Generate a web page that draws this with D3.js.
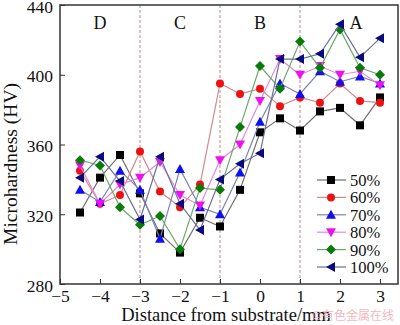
<!DOCTYPE html>
<html>
<head>
  <meta charset="utf-8">
  <title>Microhardness</title>
  <script src="https://cdnjs.cloudflare.com/ajax/libs/d3/7.8.5/d3.min.js"></script>
  <style>
    body { margin: 0; background: #fff; }
    text { font-family: "Liberation Serif", "Times New Roman", serif; fill: #111; }
  </style>
</head>
<body>
  <div id="chart"></div>
  <script>
    // distance from substrate (mm)
    var distances = [-4.5, -4, -3.5, -3, -2.5, -2, -1.5, -1, -0.5, 0, 0.5, 1, 1.5, 2, 2.5, 3];
    var seriesNames = ["50%", "60%", "70%", "80%", "90%", "100%"];
    var hv50  = [321, 341, 354, 332, 309, 298, 318, 313, 334, 367, 375, 368, 379, 381, 371, 387];
    var hv60  = [345, 326, 331, 356, 333, 324, 337, 395, 389, 392, 382, 387, 384, 395, 385, 384];
    var hv70  = [334, 327, 345, 334, 306, 346, 324, 320, 344, 373, 395, 389, 402, 396, 399, 395];
    var hv80  = [348, 326, 337, 341, 350, 331, 325, 351, 360, 385, 409, 400, 405, 400, 402, 394];
    var hv90  = [351, 348, 324, 314, 319, 300, 335, 334, 370, 405, 392, 419, 404, 426, 404, 400];
    var hv100 = [341, 353, 339, 317, 353, 326, 311, 340, 349, 355, 409, 409, 412, 429, 410, 421];
    var xTicks = [-5, -4, -3, -2, -1, 0, 1, 2, 3];
    var yTicks = [280, 320, 360, 400, 440];
    var zoneBounds = [-3, -1, 1];
    var zoneNames = ["D", "C", "B", "A"];
    var zoneLabelX = [-4, -2, 0, 2.4];

    var allSeries = [hv50, hv60, hv70, hv80, hv90, hv100];
    var markerColor = ["#000000", "#ee1111", "#1010ee", "#ee10ee", "#0a7a0a", "#0a0a80"];
    var lineColor = ["#6e6e6e", "#d48a8a", "#7a84b8", "#e08ae0", "#6aaa6a", "#6a7096"];
    var shapes = ["square", "circle", "up", "down", "diamond", "left"];

    var width = 400, height = 325;
    var plotL = 60, plotR = 398, plotT = 5, plotB = 284;

    var x = d3.scaleLinear().domain([-5, 3.45]).range([plotL, plotR]);
    var y = d3.scaleLinear().domain([280, 440]).range([plotB, plotT]);

    var svg = d3.select("#chart").append("svg")
      .attr("width", width)
      .attr("height", height);

    // zone separators
    svg.selectAll("line.zone")
      .data(zoneBounds)
      .enter().append("line")
      .attr("x1", d => x(d)).attr("x2", d => x(d))
      .attr("y1", plotT).attr("y2", plotB)
      .attr("stroke", "#c98a8a")
      .attr("stroke-width", 1)
      .attr("stroke-dasharray", "3,2");

    svg.selectAll("text.zone")
      .data(zoneNames)
      .enter().append("text")
      .attr("x", (d, i) => x(zoneLabelX[i]))
      .attr("y", 29)
      .attr("text-anchor", "middle")
      .attr("font-size", 18)
      .text(d => d);

    // marker path builder
    function markerPath(shape, cx, cy) {
      var s = 4;
      if (shape === "square") return "M" + (cx - s) + "," + (cy - s) + "h" + 2 * s + "v" + 2 * s + "h" + (-2 * s) + "Z";
      if (shape === "up") return "M" + cx + "," + (cy - 5) + "L" + (cx + 5) + "," + (cy + 4) + "L" + (cx - 5) + "," + (cy + 4) + "Z";
      if (shape === "down") return "M" + cx + "," + (cy + 5) + "L" + (cx + 5) + "," + (cy - 4) + "L" + (cx - 5) + "," + (cy - 4) + "Z";
      if (shape === "left") return "M" + (cx - 5) + "," + cy + "L" + (cx + 4) + "," + (cy - 5) + "L" + (cx + 4) + "," + (cy + 5) + "Z";
      if (shape === "diamond") return "M" + cx + "," + (cy - 5) + "L" + (cx + 5) + "," + cy + "L" + cx + "," + (cy + 5) + "L" + (cx - 5) + "," + cy + "Z";
      return "M" + (cx - 4) + "," + cy + "a4,4 0 1,0 8,0a4,4 0 1,0 -8,0Z";
    }

    var line = d3.line()
      .x((d, i) => x(distances[i]))
      .y(d => y(d));

    allSeries.forEach(function (vals, k) {
      var g = svg.append("g");
      g.append("path")
        .attr("d", line(vals))
        .attr("fill", "none")
        .attr("stroke", lineColor[k])
        .attr("stroke-width", 1.2);
      g.selectAll("path.m")
        .data(vals)
        .enter().append("path")
        .attr("d", (d, i) => markerPath(shapes[k], x(distances[i]), y(d)))
        .attr("fill", markerColor[k]);
    });

    // frame
    svg.append("rect")
      .attr("x", plotL).attr("y", plotT)
      .attr("width", plotR - plotL).attr("height", plotB - plotT)
      .attr("fill", "none")
      .attr("stroke", "#333")
      .attr("stroke-width", 1.5);

    // axes (ticks point inward)
    var xAxis = svg.append("g")
      .attr("transform", "translate(0," + plotB + ")")
      .call(d3.axisBottom(x).tickValues(xTicks).tickSizeInner(-5).tickSizeOuter(0)
        .tickFormat(d => d < 0 ? "\u2212" + Math.abs(d) : d));
    xAxis.select(".domain").remove();
    xAxis.selectAll("line").attr("stroke", "#333");
    xAxis.selectAll("text").attr("font-size", 17.5).attr("y", 6).attr("fill", "#111")
      .style("font-family", "Liberation Serif");

    var yAxis = svg.append("g")
      .attr("transform", "translate(" + plotL + ",0)")
      .call(d3.axisLeft(y).tickValues(yTicks).tickSizeInner(-5).tickSizeOuter(0));
    yAxis.select(".domain").remove();
    yAxis.selectAll("line").attr("stroke", "#333");
    yAxis.selectAll("text").attr("font-size", 17.5).attr("x", -7).attr("dy", "0.4em").attr("fill", "#111")
      .style("font-family", "Liberation Serif");

    svg.append("text")
      .attr("x", 226).attr("y", 321)
      .attr("text-anchor", "middle")
      .attr("font-size", 18.5)
      .text("Distance from substrate/mm");

    svg.append("text")
      .attr("transform", "translate(17,164) rotate(-90)")
      .attr("text-anchor", "middle")
      .attr("font-size", 19.5)
      .text("Microhardness (HV)");

    // legend
    var legend = svg.append("g");
    seriesNames.forEach(function (name, k) {
      var ly = 180 + k * 17.4;
      legend.append("line")
        .attr("x1", 317).attr("x2", 346)
        .attr("y1", ly).attr("y2", ly)
        .attr("stroke", lineColor[k]).attr("stroke-width", 1.2);
      legend.append("path")
        .attr("d", markerPath(shapes[k], 331, ly))
        .attr("fill", markerColor[k]);
      legend.append("text")
        .attr("x", 350).attr("y", ly + 6)
        .attr("font-size", 16.5)
        .text(name);
    });

    // watermark
    svg.append("text")
      .attr("x", 394).attr("y", 320)
      .attr("text-anchor", "end")
      .attr("font-size", 12)
      .style("font-family", "Noto Sans CJK SC")
      .style("fill", "#f2b8c0")
      .text("©有色金属在线");
  </script>
</body>
</html>
